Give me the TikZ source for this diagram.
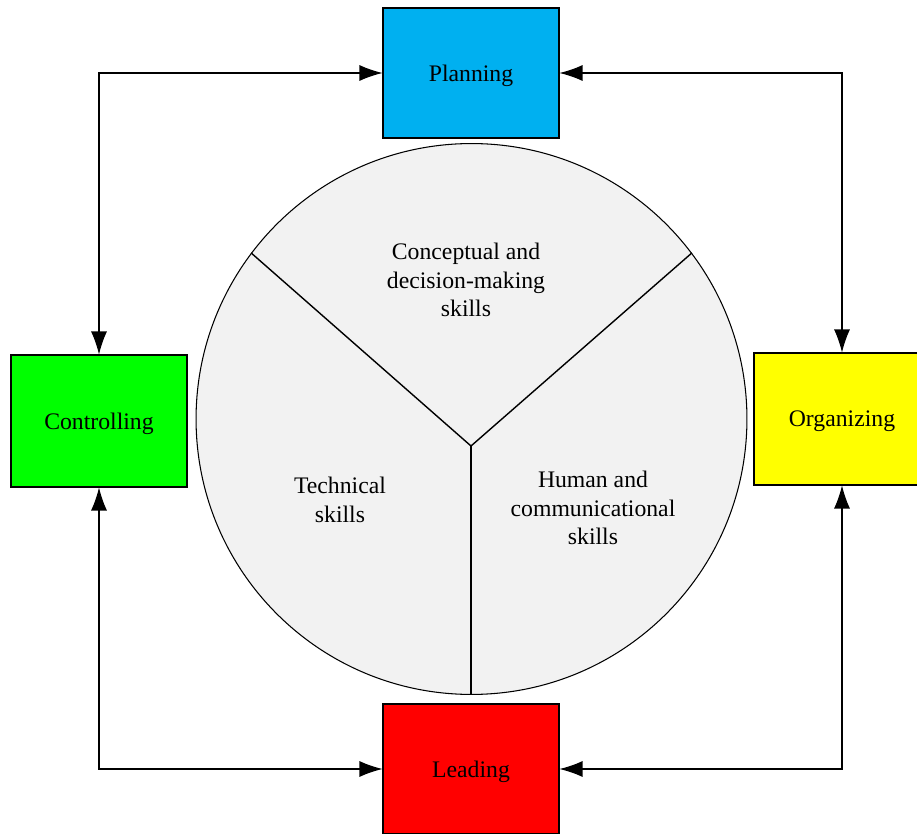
\documentclass[tikz,border=0pt]{standalone}
\usepackage{fontspec}
\setmainfont{Liberation Serif}
\usetikzlibrary{arrows.meta,positioning}
\tikzset{>={Latex[length=0.46cm,width=0.32cm]}}
\tikzset{
    func/.style={draw,line width=0.6pt,minimum width=3.52cm,minimum height=2.6cm,text depth=0pt,font=\fontsize{13.5}{16.4}\selectfont},
    skill/.style={align=center,font=\fontsize{13.5}{16.4}\selectfont},
}
\definecolor{plancol}{HTML}{00B0F0}
\definecolor{ctrlcol}{HTML}{00FF00}
\definecolor{orgcol}{HTML}{FFFF00}
\definecolor{leadcol}{HTML}{FF0000}
\definecolor{wheel}{HTML}{F2F2F2}

\begin{document}
\begin{tikzpicture}[x=0.02cm,y=-0.02cm]
    \clip (0,0) rectangle (917,834);

    % the skills wheel
    \node[draw,circle,fill=wheel,line width=0.6pt,minimum size=11.02cm,inner sep=0pt] (wheel) at (471.5,419) {};
    \coordinate (J) at (471,446);
    \draw[line width=0.8pt] (wheel.143.2)--(J)--(wheel.37.6);
    \draw[line width=0.8pt] (J)--(J|-wheel.south);

    \node[skill] (concept) at (466,280) {Conceptual and\\decision-making\\skills};
    \node[skill] (tech) at (340,500) {Technical\\skills};
    \node[skill] (human) at (593,508) {Human and\\communicational\\skills};

    % management functions
    \node[func,fill=plancol] (plan) at (471,73) {Planning};
    \node[func,fill=ctrlcol,minimum height=2.64cm] (ctrl) at (99,421) {Controlling};
    \node[func,fill=orgcol,minimum height=2.64cm] (org) at (842,419) {Organizing};
    \node[func,fill=leadcol] (lead) at (471,769) {Leading};

    \draw[<->,line width=0.6pt](plan.west) -| (ctrl.north);
    \draw[<->,line width=0.6pt](plan.east) -| (org.north);
    \draw[<->,line width=0.6pt](ctrl.south) |- (lead.west);
    \draw[<->,line width=0.6pt](org.south) |- (lead.east);

\end{tikzpicture}
\end{document}
